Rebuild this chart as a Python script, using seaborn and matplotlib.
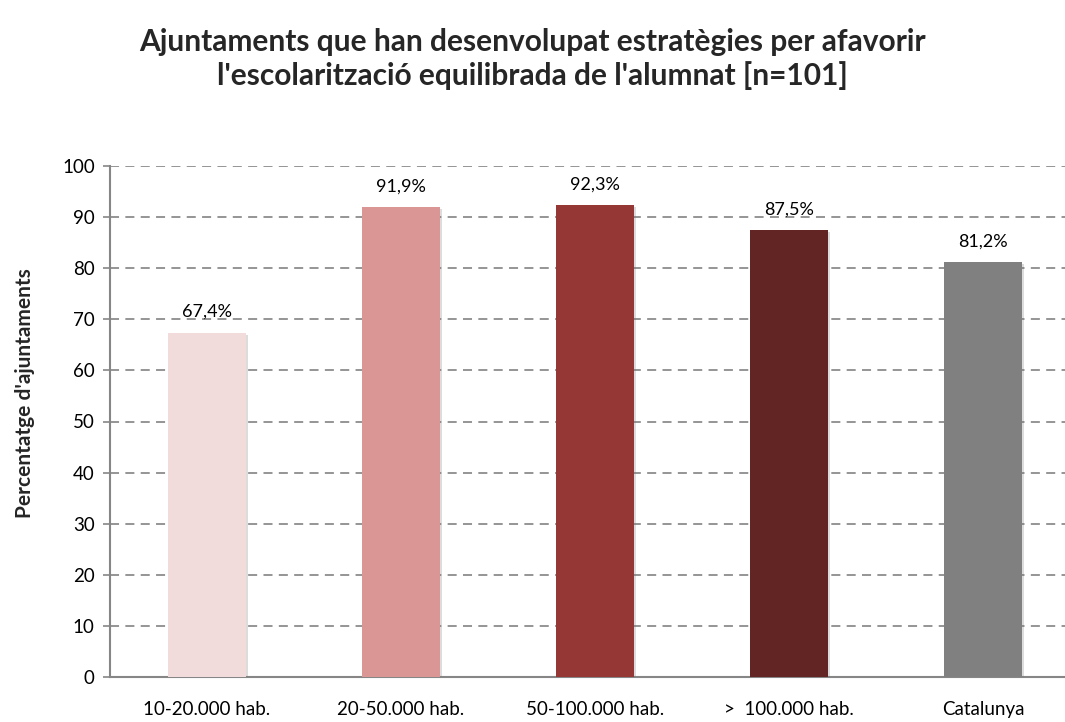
import matplotlib
matplotlib.use("Agg")
import matplotlib.pyplot as plt
import matplotlib.patheffects as pe
import seaborn as sns
import pandas as pd

categories = ["10-20.000 hab.", "20-50.000 hab.", "50-100.000 hab.", ">  100.000 hab.", "Catalunya"]
values = [67.4, 91.9, 92.3, 87.5, 81.2]
labels = ["67,4%", "91,9%", "92,3%", "87,5%", "81,2%"]
colors = ["#F2DCDB", "#D99694", "#953735", "#632523", "#808080"]
yticks = [0, 10, 20, 30, 40, 50, 60, 70, 80, 90, 100]

sns.set_style("white")
plt.rcParams["font.family"] = ["Lato", "DejaVu Sans"]

df = pd.DataFrame({"cat": categories, "val": values})

fig = plt.figure(figsize=(10.65, 7.22), dpi=100)
ax = fig.add_axes([110 / 1065, 45 / 722, 970 / 1065, 511 / 722])

sns.barplot(data=df, x="cat", y="val", hue="cat", palette=colors, width=0.40,
            legend=False, ax=ax, saturation=1, zorder=3, linewidth=0, edgecolor="none")

for p in ax.patches:
    p.set_path_effects([pe.SimplePatchShadow(offset=(1.5, -1.5), shadow_rgbFace="#777777", alpha=0.25),
                        pe.Normal()])

ax.set_ylim(0, 100)
ax.set_yticks(yticks)
ax.set_xlim(-0.5, 4.5)
ax.yaxis.grid(True, linestyle=(0, (5, 3.5)), color="#8C8C8C", linewidth=1.3, zorder=0)
ax.xaxis.grid(False)
ax.set_axisbelow(True)

for s in ["top", "right"]:
    ax.spines[s].set_visible(False)
for s in ["left", "bottom"]:
    ax.spines[s].set_color("#868686")
    ax.spines[s].set_linewidth(1.5)

ax.tick_params(axis="y", which="both", left=True, length=5, width=1.2, color="#868686",
               labelsize=13.5, pad=6, labelcolor="black")
ax.tick_params(axis="x", bottom=False, labelsize=13.5, pad=14, labelcolor="black")

ax.set_xlabel("")
ax.set_ylabel("Percentatge d'ajuntaments", fontsize=15, fontweight="bold")
ax.yaxis.set_label_coords(-0.077, 0.556)

for i, (v, lab) in enumerate(zip(values, labels)):
    ax.annotate(lab, (i, v), xytext=(0, 9), textcoords="offset points",
                ha="center", va="bottom", fontsize=13, color="black")

fig.text(532 / 1065, 1 - 59 / 722,
         "Ajuntaments que han desenvolupat estratègies per afavorir\nl'escolarització equilibrada de l'alumnat [n=101]",
         ha="center", va="center", fontsize=21.5, fontweight="bold", linespacing=1.25)

fig.savefig("out.png", dpi=100)
